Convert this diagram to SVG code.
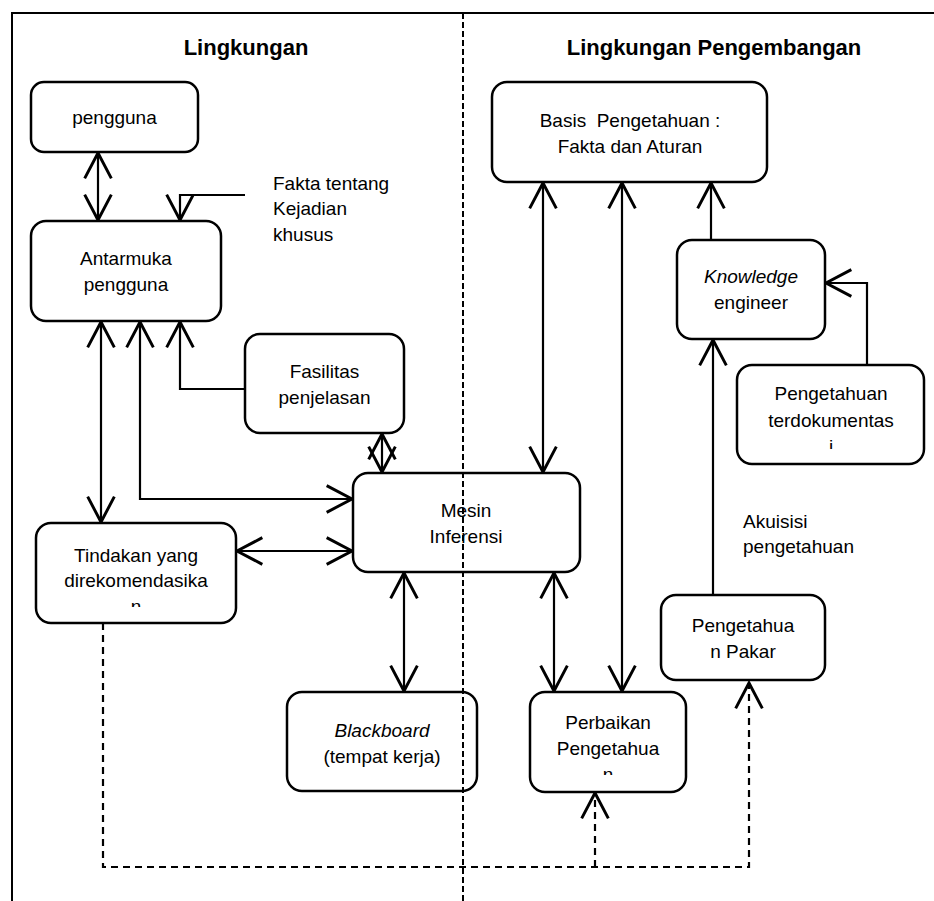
<svg xmlns="http://www.w3.org/2000/svg" width="934" height="901" viewBox="0 0 934 901">
<style>
.box{fill:#fff;stroke:#000;stroke-width:2.5}
.ln{fill:none;stroke:#000;stroke-width:2.2}
.dash{fill:none;stroke:#000;stroke-width:2.2;stroke-dasharray:7 5}
.frame{fill:none;stroke:#000;stroke-width:2}
.div{fill:none;stroke:#000;stroke-width:2;stroke-dasharray:6 3}
text{font-family:"Liberation Sans",Arial,sans-serif;font-size:19px;fill:#000}
.c{text-anchor:middle}
.t{font-size:22px;font-weight:bold;text-anchor:middle}
.i{font-style:italic}
</style>
<defs>
<marker id="a" markerUnits="userSpaceOnUse" markerWidth="40" markerHeight="40" viewBox="-25 -15 30 30" refX="0" refY="0" orient="auto-start-reverse" overflow="visible">
<path d="M-19,-10 L0,0 L-19,10" fill="none" stroke="#000" stroke-width="2.2"/>
</marker>
<clipPath id="clipT"><rect x="36" y="523" width="200" height="84"/></clipPath>
<clipPath id="clipP"><rect x="737" y="365" width="187" height="84"/></clipPath>
<clipPath id="clipR"><rect x="530" y="692" width="156" height="83"/></clipPath>
</defs>

<g id="frame">
<path class="frame" d="M12,901 V13 H934"/>
</g>

<g id="titles">
<text class="t" x="246" y="55">Lingkungan</text>
<text class="t" x="714" y="55">Lingkungan Pengembangan</text>
</g>

<g id="connectors">
<path class="ln" d="M98,153 V220" marker-start="url(#a)" marker-end="url(#a)"/>
<path class="ln" d="M245,195 H180 V220" marker-end="url(#a)"/>
<path class="ln" d="M101,322 V522" marker-start="url(#a)" marker-end="url(#a)"/>
<path class="ln" d="M140,322 V499 H352" marker-start="url(#a)" marker-end="url(#a)"/>
<path class="ln" d="M245,389 H180 V322" marker-end="url(#a)"/>
<path class="ln" d="M382,434 V472" marker-start="url(#a)" marker-end="url(#a)"/>
<path class="ln" d="M237,551 H352" marker-start="url(#a)" marker-end="url(#a)"/>
<path class="ln" d="M404,573 V691" marker-start="url(#a)" marker-end="url(#a)"/>
<path class="ln" d="M543,183 V472" marker-start="url(#a)" marker-end="url(#a)"/>
<path class="ln" d="M554,573 V691" marker-start="url(#a)" marker-end="url(#a)"/>
<path class="ln" d="M622,183 V691" marker-start="url(#a)" marker-end="url(#a)"/>
<path class="ln" d="M711,240 V183" marker-end="url(#a)"/>
<path class="ln" d="M867,365 V283 H826" marker-end="url(#a)"/>
<path class="ln" d="M713,595 V340" marker-end="url(#a)"/>
<path class="dash" d="M103,623 V867 H749 V683" marker-end="url(#a)"/>
<path class="dash" d="M595,867 V793" marker-end="url(#a)"/>
</g>

<g id="label-fakta">
<text x="273" y="190">Fakta tentang</text>
<text x="273" y="215">Kejadian</text>
<text x="273" y="241">khusus</text>
</g>
<g id="label-akuisisi">
<text x="743" y="528">Akuisisi</text>
<text x="743" y="553">pengetahuan</text>
</g>

<g id="pengguna">
<rect class="box" x="31" y="82" width="167" height="70" rx="13"/>
<text class="c" x="114.5" y="124">pengguna</text>
</g>

<g id="antarmuka">
<rect class="box" x="31" y="221" width="190" height="100" rx="15"/>
<text class="c" x="126" y="265">Antarmuka</text>
<text class="c" x="126" y="291">pengguna</text>
</g>

<g id="fasilitas">
<rect class="box" x="245" y="334" width="159" height="99" rx="15"/>
<text class="c" x="324.5" y="378">Fasilitas</text>
<text class="c" x="324.5" y="404">penjelasan</text>
</g>

<g id="mesin">
<rect class="box" x="353" y="473" width="227" height="99" rx="15"/>
<text class="c" x="466" y="517">Mesin</text>
<text class="c" x="466" y="543">Inferensi</text>
</g>

<g id="tindakan">
<rect class="box" x="36" y="523" width="200" height="100" rx="15"/>
<text class="c" x="136" y="562">Tindakan yang</text>
<text class="c" x="136" y="587">direkomendasika</text>
<text class="c" x="136" y="613" clip-path="url(#clipT)">n</text>
</g>

<g id="blackboard">
<rect class="box" x="287" y="692" width="190" height="99" rx="15"/>
<text class="c i" x="382" y="737">Blackboard</text>
<text class="c" x="382" y="763">(tempat kerja)</text>
</g>

<g id="basis">
<rect class="box" x="492" y="82" width="275" height="100" rx="15"/>
<text class="c" x="630" y="127" xml:space="preserve">Basis  Pengetahuan :</text>
<text class="c" x="630" y="153">Fakta dan Aturan</text>
</g>

<g id="knowledge-engineer">
<rect class="box" x="677" y="240" width="148" height="99" rx="15"/>
<text class="c i" x="751" y="283">Knowledge</text>
<text class="c" x="751" y="309">engineer</text>
</g>

<g id="pengetahuan-terdokumentasi">
<rect class="box" x="737" y="365" width="187" height="99" rx="15"/>
<text class="c" x="831" y="400">Pengetahuan</text>
<text class="c" x="831" y="427">terdokumentas</text>
<text class="c" x="831" y="453" clip-path="url(#clipP)">i</text>
</g>

<g id="pengetahuan-pakar">
<rect class="box" x="661" y="595" width="164" height="85" rx="15"/>
<text class="c" x="743" y="632">Pengetahua</text>
<text class="c" x="743" y="658">n Pakar</text>
</g>

<g id="perbaikan">
<rect class="box" x="530" y="692" width="156" height="100" rx="15"/>
<text class="c" x="608" y="729">Perbaikan</text>
<text class="c" x="608" y="755">Pengetahua</text>
<text class="c" x="608" y="781" clip-path="url(#clipR)">n</text>
</g>

<g id="divider">
<path class="div" d="M463,13 V901"/>
</g>
</svg>
